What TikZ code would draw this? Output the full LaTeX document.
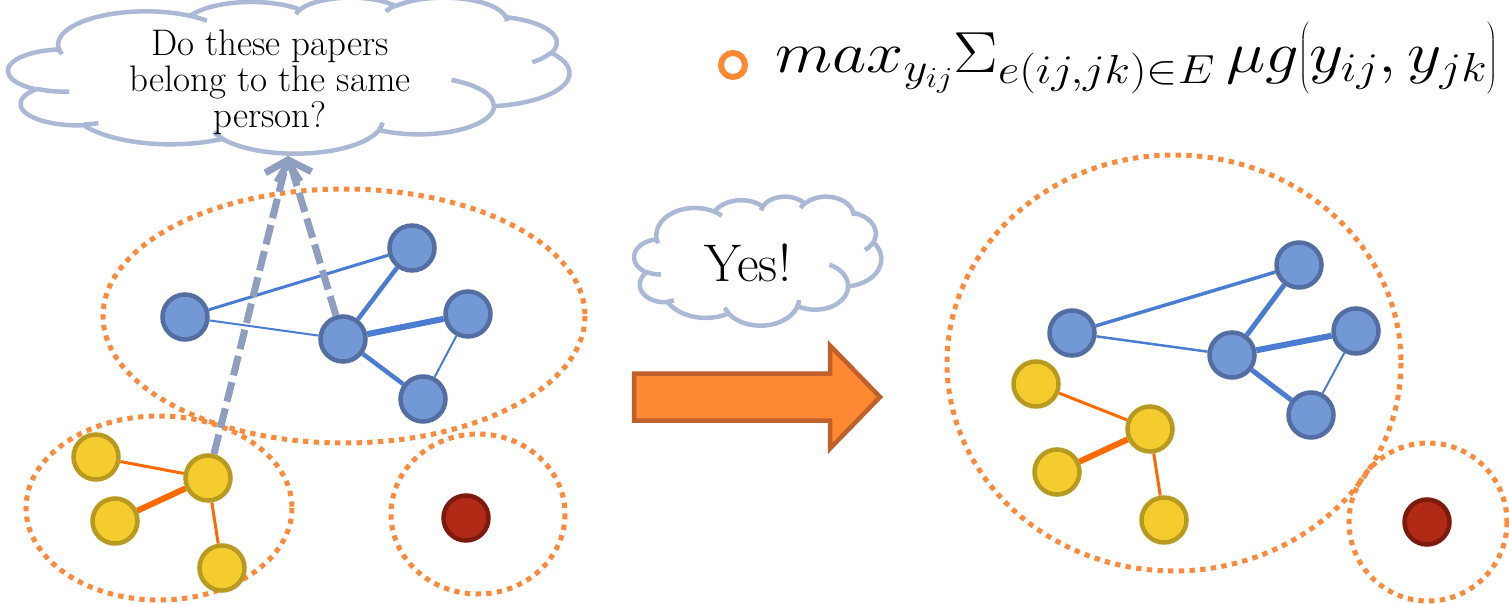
\RequirePackage{fix-cm}
\documentclass[tikz,border=0pt]{standalone}
\usepackage{graphicx}
\usetikzlibrary{arrows.meta,backgrounds}

\definecolor{bluefill}{HTML}{7398D6}
\definecolor{blueborder}{HTML}{546EA3}
\definecolor{bluelink}{HTML}{4A7DD1}
\definecolor{yellowfill}{HTML}{F4CC2E}
\definecolor{yellowborder}{HTML}{B79A1F}
\definecolor{redfill}{HTML}{B02A16}
\definecolor{redborder}{HTML}{7B1A0D}
\definecolor{orangelink}{HTML}{FF6A00}
\definecolor{dotorange}{HTML}{FB8A3C}
\definecolor{cloudblue}{HTML}{ABB9D6}
\definecolor{askblue}{HTML}{8E9DC0}
\definecolor{arrowfill}{HTML}{FF8833}
\definecolor{arrowedge}{HTML}{C0602A}

% cloud outline built from elliptic arcs (angles given as seen on the ellipse)
\newcommand\cloudacc{}
\newcommand\cloudarc[4]{%
  \pgfmathsetmacro\cloudts{atan2((#1)*sin(#3),(#2)*cos(#3))}%
  \pgfmathsetmacro\cloudtr{atan2((#1)*sin((#3)+(#4)),(#2)*cos((#3)+(#4)))}%
  \pgfmathsetmacro\cloudte{(\cloudtr)-360*round(((\cloudtr)-(\cloudts)-(#4))/360)}%
  \xdef\cloudacc{\cloudacc arc[x radius=#1,y radius=#2,start angle=\cloudts,end angle=\cloudte]}%
}
\newcommand\cloudmove[2]{\xdef\cloudacc{\cloudacc (#1,#2)}}
\newcommand\buildcloud{%
  \gdef\cloudacc{}%
  \cloudmove{90.278}{332.639}%
  \cloudarc{156.32}{212.73}{-190.48748}{123.78053}%
  \cloudarc{123.45}{168.22}{-144.10238}{89.94523}%
  \cloudarc{101.04}{137.62}{-145.80792}{99.72302}%
  \cloudarc{112.43}{152.66}{-130.98607}{117.24173}%
  \cloudarc{123.45}{168.36}{-78.70888}{109.02692}%
  \cloudarc{156.83}{213.43}{-46.26725}{130.269}%
  \cloudarc{133.91}{182.11}{0.62502}{114.03333}%
  \cloudarc{156.30}{213.31}{22.4624}{115.17255}%
  \cloudarc{178.70}{244.05}{66.24263}{75.71102}%
  \cloudarc{100.93}{136.99}{-274.94208}{146.73557}%
  \cloudarc{100.58}{137.62}{-246.8285}{152.51885}%
  \xdef\cloudouter{\cloudacc -- cycle}%
  \gdef\cloudacc{}%
  \cloudmove{108.634}{605.949}\cloudarc{100.58}{137.62}{86.742}{26.4295}%
  \cloudmove{160.370}{807.847}\cloudarc{100.93}{136.99}{73.61047}{11.44747}%
  \cloudmove{381.435}{904.861}\cloudarc{156.30}{213.31}{137.62415}{14.0811}%
  \cloudmove{667.292}{804.421}\cloudarc{156.30}{213.31}{6.45327}{15.99835}%
  \cloudmove{790.023}{531.343}\cloudarc{133.91}{182.11}{-70.29235}{70.91737}%
  \cloudmove{967.546}{355.417}\cloudarc{123.45}{168.36}{30.31803}{27.7515}%
  \cloudmove{887.130}{125.602}\cloudarc{112.43}{152.66}{-13.74433}{14.8589}%
  \cloudmove{673.102}{91.481}\cloudarc{112.43}{152.66}{-149.18145}{18.19537}%
  \cloudmove{512.523}{109.259}\cloudarc{101.04}{137.62}{-163.49427}{17.68635}%
  \cloudmove{324.074}{120.185}\cloudarc{156.32}{212.73}{-66.70695}{12.31935}%
  \cloudmove{95.532}{365.486}\cloudarc{156.32}{212.73}{157.65435}{11.85817}%
  \xdef\cloudinner{\cloudacc}%
}

% delimiter of a fixed height
\newcommand\fixdelim[1]{\hbox{$\nulldelimiterspace=0pt\mathsurround=0pt\left#1\vcenter to 72pt{}\right.$}}

\tikzset{
  bnode/.style={circle, inner sep=0pt, minimum size=45pt, line width=4.5pt, draw=blueborder, fill=bluefill},
  ynode/.style={circle, inner sep=0pt, minimum size=45pt, line width=4.5pt, draw=yellowborder, fill=yellowfill},
  rnode/.style={circle, inner sep=0pt, minimum size=45pt, line width=4.5pt, draw=redborder, fill=redfill},
  blink/.style={draw=bluelink, line width=#1},
  olink/.style={draw=orangelink, line width=#1},
  group/.style={draw=dotorange, line width=5pt, dash pattern=on 5.3pt off 5.4pt},
  cloudline/.style={draw=cloudblue, line width=4.5pt, line join=round},
  asks/.style={draw=askblue, line width=7pt, dash pattern=on 20pt off 7pt,
    -{Straight Barb[length=17pt,width=36pt]}},
}

\begin{document}
\begin{tikzpicture}[x=1pt,y=-1pt]
\useasboundingbox (0,0) rectangle (1509,604);
\buildcloud

% ---- thought clouds ----
\begin{scope}[shift={(8.3,-2.9)}, x=0.561pt, y=-0.156pt]
  \draw[cloudline, fill=white] \cloudouter;
  \draw[cloudline] \cloudinner;
\end{scope}
\node[font=\fontsize{37}{36}\selectfont, align=center, inner sep=0pt] (question) at (270,82)
  {Do these papers\\belong to the same\\person?};

\begin{scope}[shift={(634.3,196.2)}, x=0.247pt, y=-0.129pt]
  \draw[cloudline, fill=white] \cloudouter;
  \draw[cloudline] \cloudinner;
\end{scope}
\node[font=\fontsize{53}{56}\selectfont, anchor=base, inner sep=0pt] (yes) at (748,281) {Yes!};

% ---- objective ----
\node[circle, draw=arrowfill, line width=6pt, minimum size=24pt, inner sep=0pt] (bullet) at (733,65) {};
\node[anchor=base west, inner sep=0pt, font=\fontsize{58}{60}\selectfont] (objective) at (775,73)
  {\scalebox{1.15}[1]{$max_{y_{ij}}\Sigma_{e(ij,jk)\in E}\,\mu g\fixdelim(y_{ij},y_{jk}\fixdelim)$}};

% ---- left graph ----
\node[bnode] (lA) at (185,317) {};
\node[bnode] (lB) at (412,248) {};
\node[bnode] (lC) at (343,339) {};
\node[bnode] (lD) at (468,314) {};
\node[bnode] (lE) at (423,399) {};
\node[ynode] (lY1) at (96,457) {};
\node[ynode] (lY2) at (208,478) {};
\node[ynode] (lY3) at (115,521) {};
\node[ynode] (lY4) at (222,568) {};
\node[rnode] (lR) at (466,518) {};

% ---- right graph ----
\node[bnode] (rA) at (1072,333) {};
\node[bnode] (rB) at (1299,265) {};
\node[bnode] (rC) at (1232,355) {};
\node[bnode] (rD) at (1356,331) {};
\node[bnode] (rE) at (1311,415) {};
\node[ynode] (rY1) at (1036,384) {};
\node[ynode] (rY2) at (1150,429) {};
\node[ynode] (rY3) at (1057,472) {};
\node[ynode] (rY4) at (1164,520) {};
\node[rnode] (rR) at (1427,522) {};

\begin{pgfonlayer}{background}
  % dotted groupings
  \draw[group] (344,316) ellipse [x radius=241, y radius=127];
  \draw[group] (159,508) ellipse [x radius=133, y radius=92];
  \draw[group] (478,514) ellipse [x radius=87, y radius=80];
  \draw[group] (1174,363) ellipse [x radius=227, y radius=208];
  \draw[group] (1428,522) ellipse [x radius=79, y radius=79];
  % links
  \draw[blink=3pt] (lA) -- (lB);
  \draw[blink=2pt] (lA) -- (lC);
  \draw[blink=4.5pt] (lC) -- (lB);
  \draw[blink=6pt] (lC) -- (lD);
  \draw[blink=4.5pt] (lC) -- (lE);
  \draw[blink=2pt] (lD) -- (lE);
  \draw[olink=3pt] (lY1) -- (lY2);
  \draw[olink=6pt] (lY2) -- (lY3);
  \draw[olink=3pt] (lY2) -- (lY4);
  \draw[blink=3.5pt] (rA) -- (rB);
  \draw[blink=2.5pt] (rA) -- (rC);
  \draw[blink=5pt] (rC) -- (rB);
  \draw[blink=6pt] (rC) -- (rD);
  \draw[blink=5pt] (rC) -- (rE);
  \draw[blink=2pt] (rD) -- (rE);
  \draw[olink=3pt] (rY1) -- (rY2);
  \draw[olink=6pt] (rY2) -- (rY3);
  \draw[olink=3pt] (rY2) -- (rY4);
\end{pgfonlayer}

% ---- question arrows ----
\coordinate (asktip) at (288,156);
\draw[asks] (lY2) -- (asktip);
\draw[asks] (lC) -- (asktip);

% ---- merge arrow ----
\draw[draw=arrowedge, fill=arrowfill, line width=4.5pt, line join=miter]
  (634,373.5) -- (830,373.5) -- (830,345.5) -- (880,397) -- (830,448.5) -- (830,420.5) -- (634,420.5) -- cycle;
\end{tikzpicture}
\end{document}
